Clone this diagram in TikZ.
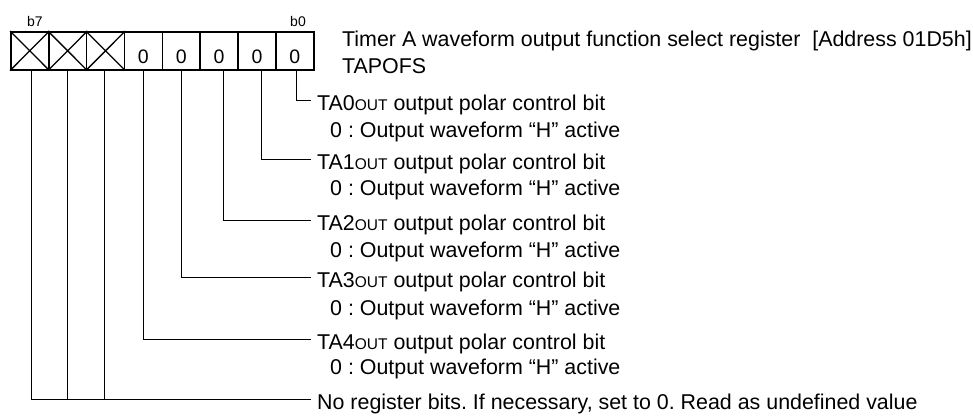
\documentclass[tikz,border=0pt]{standalone}
\usepackage{fontspec}
\setmainfont{Liberation Sans}
\usetikzlibrary{positioning}
\newcommand{\outsub}{{\fontsize{15.5}{15.5}\selectfont OUT}}
\frenchspacing

\begin{document}
\begin{tikzpicture}[x=1pt, y=-1pt, font=\fontsize{21.4}{27}\selectfont,
  regcell/.style={draw, line width=1.6pt, anchor=north west, inner sep=0pt,
    minimum width=37.9pt, minimum height=38pt,
    font=\fontsize{19.5}{19.5}\selectfont, text height=25pt, text depth=0pt},
  bitlabel/.style={font=\fontsize{14}{14}\selectfont, inner sep=0pt},
  desc/.style={anchor=west, inner xsep=6pt, inner ysep=0pt,
    text height=21pt, text depth=0pt},
  leader/.style={line width=0.9pt}]
  \useasboundingbox (0,0) rectangle (973,415);

  % register cells, b7 on the left
  \node[regcell] (b7) at (10,31) {};
  \node[regcell] (b6) at (47.9,31) {};
  \node[regcell] (b5) at (85.8,31) {};
  \node[regcell] (b4) at (123.6,31) {0};
  \node[regcell] (b3) at (161.5,31) {0};
  \node[regcell] (b2) at (199.4,31) {0};
  \node[regcell] (b1) at (237.3,31) {0};
  \node[regcell] (b0) at (275.1,31) {0};
  \draw[line width=1.3pt] (b7.north west) -- (b7.south east) (b7.south west) -- (b7.north east);
  \draw[line width=1.3pt] (b6.north west) -- (b6.south east) (b6.south west) -- (b6.north east);
  \draw[line width=1.3pt] (b5.north west) -- (b5.south east) (b5.south west) -- (b5.north east);

  \node[bitlabel] (lb7) at (35,21) {b7};
  \node[bitlabel] (lb0) at (298,21) {b0};

  % register name
  \node[anchor=north west, inner sep=0pt, align=left] (title) at (342,30.3)
    {Timer A waveform output function select register\ \ [Address 01D5h]\\TAPOFS};

  % bit descriptions
  \node[desc] (ta0) at (311,100) {TA0\outsub{} output polar control bit};
  \node[desc] (ta0v) at (324,127) {0 : Output waveform “H” active};
  \node[desc] (ta1) at (311,159) {TA1\outsub{} output polar control bit};
  \node[desc] (ta1v) at (324,185) {0 : Output waveform “H” active};
  \node[desc] (ta2) at (311,220) {TA2\outsub{} output polar control bit};
  \node[desc] (ta2v) at (324,247) {0 : Output waveform “H” active};
  \node[desc] (ta3) at (311,277) {TA3\outsub{} output polar control bit};
  \node[desc] (ta3v) at (324,305) {0 : Output waveform “H” active};
  \node[desc] (ta4) at (311,339) {TA4\outsub{} output polar control bit};
  \node[desc] (ta4v) at (324,364) {0 : Output waveform “H” active};
  \node[desc] (nobits) at (311,399) {No register bits. If necessary, set to 0. Read as undefined value};

  % leaders
  \draw[leader] ([xshift=2pt]b0.south) |- (ta0.west);
  \draw[leader] ([xshift=4.5pt]b1.south) |- (ta1.west);
  \draw[leader] ([xshift=4.5pt]b2.south) |- (ta2.west);
  \draw[leader] (b3.south) |- (ta3.west);
  \draw[leader] (b4.south) |- (ta4.west);
  \draw[leader] ([xshift=1.5pt]b7.south) |- (nobits.west);
  \draw[leader] (b6.south) -- (b6.south |- nobits.west);
  \draw[leader] ([xshift=-1pt]b5.south) -- ([xshift=-1pt]b5.south |- nobits.west);
\end{tikzpicture}
\end{document}
